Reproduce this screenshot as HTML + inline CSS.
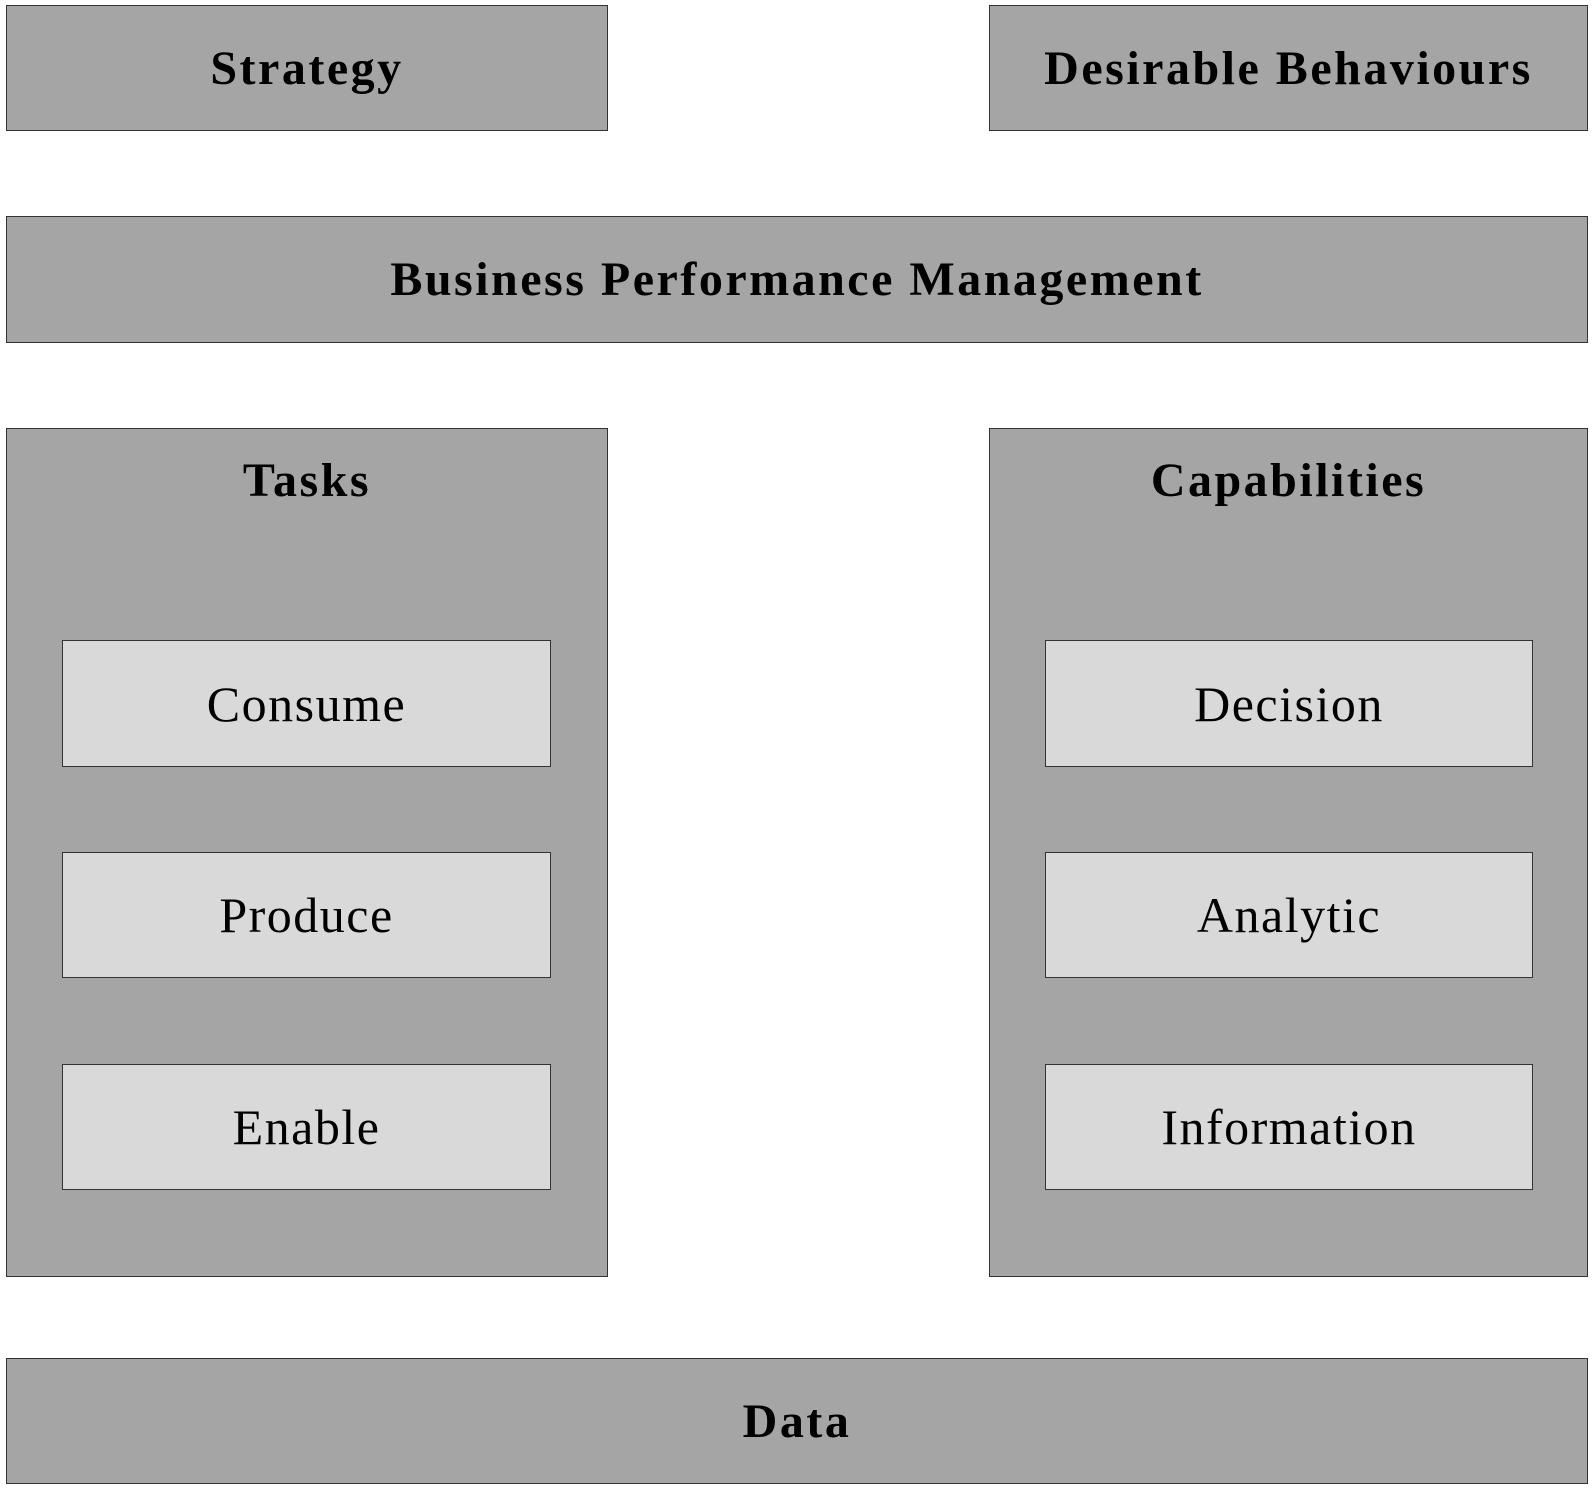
<!DOCTYPE html>
<html><head><style>
body{margin:0;width:1596px;height:1489px;background:#fff;position:relative;overflow:hidden;font-family:"Liberation Serif",serif;}
.b{position:absolute;box-sizing:border-box;border:1.5px solid #333;background:#a5a5a5;display:flex;align-items:center;justify-content:center;font-weight:bold;font-size:48px;letter-spacing:2.5px;color:#000;}
.i{background:#d9d9d9;font-weight:normal;font-size:50px;letter-spacing:1.5px;}
.t{position:absolute;left:0;right:0;text-align:center;top:24px;font-weight:bold;font-size:48px;letter-spacing:2.5px;}
.c{position:absolute;box-sizing:border-box;border:1.5px solid #333;background:#a5a5a5;}
</style></head><body>
<div class="b" style="left:6px;top:5px;width:602px;height:126px">Strategy</div>
<div class="b" style="left:989px;top:5px;width:599px;height:126px">Desirable Behaviours</div>
<div class="b" style="left:6px;top:216px;width:1582px;height:127px">Business Performance Management</div>
<div class="c" style="left:6px;top:428px;width:602px;height:849px"><div class="t">Tasks</div></div>
<div class="c" style="left:989px;top:428px;width:599px;height:849px"><div class="t">Capabilities</div></div>
<div class="b i" style="left:62px;top:640px;width:489px;height:127px">Consume</div>
<div class="b i" style="left:62px;top:852px;width:489px;height:126px">Produce</div>
<div class="b i" style="left:62px;top:1064px;width:489px;height:126px">Enable</div>
<div class="b i" style="left:1045px;top:640px;width:488px;height:127px">Decision</div>
<div class="b i" style="left:1045px;top:852px;width:488px;height:126px">Analytic</div>
<div class="b i" style="left:1045px;top:1064px;width:488px;height:126px">Information</div>
<div class="b" style="left:6px;top:1358px;width:1582px;height:126px">Data</div>
</body></html>
